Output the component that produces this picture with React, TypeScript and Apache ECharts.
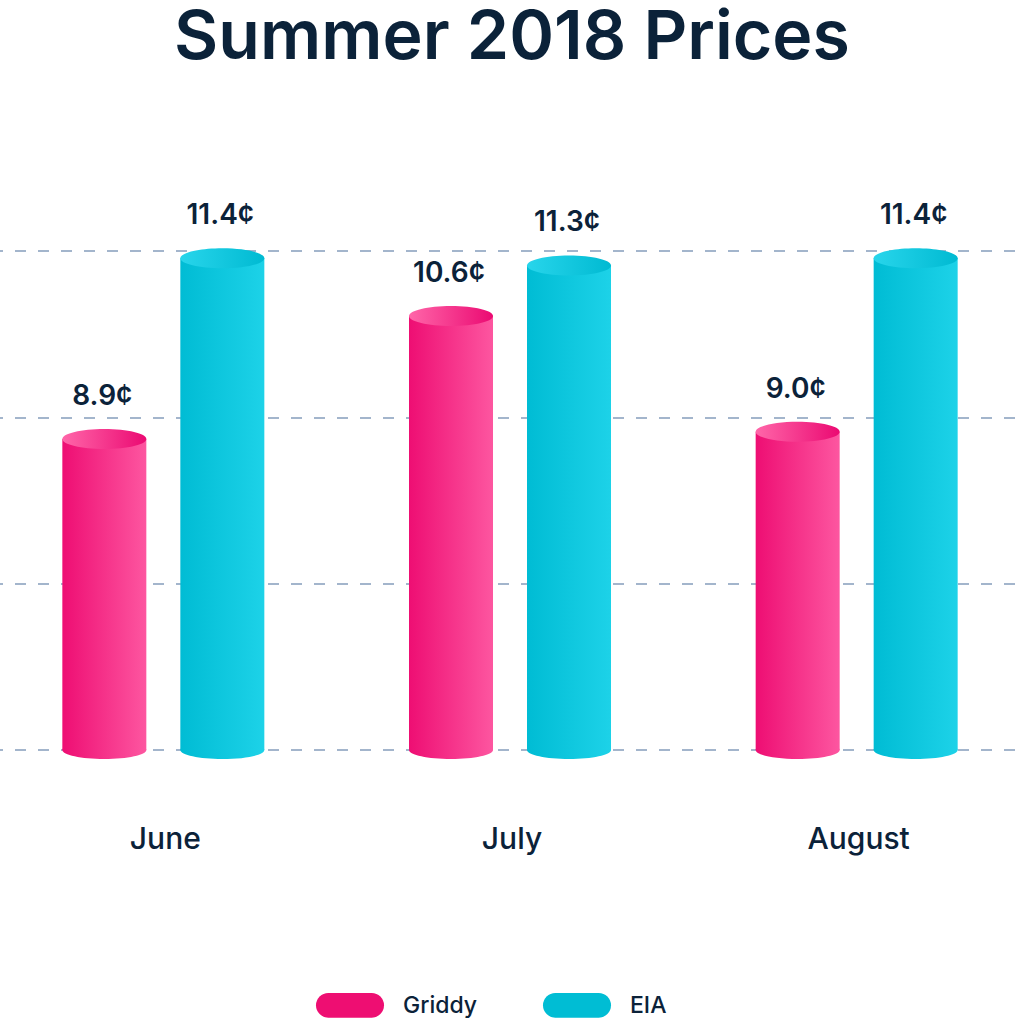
import React, { useEffect, useRef } from "react";
import * as echarts from "echarts";

const categories = ["June", "July", "August"];
const griddy = [8.9, 10.6, 9.0];
const eia = [11.4, 11.3, 11.4];
const seriesNames = ["Griddy", "EIA"];
const yMin = 4.6;
const yMax = 11.5;
const yInterval = 2.3;

const NAVY = "#0B2239";
const FONT = "Inter, 'Noto Sans', sans-serif";
const SHIFT = 8; // chart div starts 8px left of the page edge

function cylinder(
  offset: number,
  bodyColors: [string, string],
  topColors: [string, string]
) {
  return (params: any, api: any) => {
    const idx = api.value(0);
    const val = api.value(1);
    const top = api.coord([idx, val]);
    const base = api.coord([idx, yMin]);
    const cx = top[0] + offset;
    const hw = 42;
    const body = new echarts.graphic.LinearGradient(0, 0, 1, 0, [
      { offset: 0, color: bodyColors[0] },
      { offset: 1, color: bodyColors[1] },
    ]);
    const cap = new echarts.graphic.LinearGradient(0, 0, 1, 0, [
      { offset: 0, color: topColors[0] },
      { offset: 1, color: topColors[1] },
    ]);
    return {
      type: "group",
      children: [
        {
          type: "rect",
          shape: { x: cx - hw, y: top[1], width: hw * 2, height: base[1] - top[1] },
          style: { fill: body },
        },
        {
          type: "ellipse",
          shape: { cx, cy: base[1], rx: hw, ry: 9 },
          style: { fill: body },
        },
        {
          type: "ellipse",
          shape: { cx, cy: top[1], rx: hw, ry: 10 },
          style: { fill: cap },
        },
        {
          type: "text",
          style: {
            x: cx - 2,
            y: top[1] - 30,
            text: val.toFixed(1) + "¢",
            fill: NAVY,
            font: `600 28px ${FONT}`,
            align: "center",
            verticalAlign: "bottom",
          },
        },
      ],
    };
  };
}

export default function App() {
  const ref = useRef<HTMLDivElement>(null);
  useEffect(() => {
    if (!ref.current) return;
    const chart = echarts.init(ref.current, undefined, { renderer: "svg" });
    const pill = "path://M12,0 L56,0 A12.5,12.5 0 0 1 56,25 L12,25 A12.5,12.5 0 0 1 12,0 Z";
    chart.setOption({
      animation: false,
      backgroundColor: "#ffffff",
      title: {
        text: "Summer 2018 Prices",
        left: "center",
        top: 0,
        padding: 0,
        textStyle: {
          fontFamily: FONT,
          fontWeight: 600,
          fontSize: 68,
          lineHeight: 68,
          color: NAVY,
        },
      },
      legend: {
        left: 316 + SHIFT,
        top: 993,
        padding: 0,
        itemWidth: 68,
        itemHeight: 25,
        itemGap: 66,
        icon: pill,
        data: seriesNames,
        textStyle: {
          fontFamily: FONT,
          fontSize: 23,
          fontWeight: 500,
          color: NAVY,
          padding: [0, 0, 0, 14],
        },
      },
      grid: { left: 0, right: 0, top: 251, bottom: 270 },
      xAxis: {
        type: "category",
        data: categories,
        axisLine: { show: false },
        axisTick: { show: false },
        axisLabel: {
          margin: 73,
          fontFamily: FONT,
          fontSize: 30,
          fontWeight: 500,
          color: NAVY,
        },
      },
      yAxis: {
        type: "value",
        min: yMin,
        max: yMax,
        interval: yInterval,
        axisLabel: { show: false },
        axisLine: { show: false },
        axisTick: { show: false },
        splitLine: {
          lineStyle: { color: "#A3B5CC", width: 2, type: [11, 12] },
        },
      },
      series: [
        {
          name: seriesNames[0],
          type: "custom",
          itemStyle: { color: "#EE0E72" },
          encode: { x: 0, y: 1 },
          clip: false,
          data: griddy.map((v, i) => [i, v]),
          renderItem: cylinder(-61, ["#EE0E73", "#FD56A0"], ["#FF66A9", "#EB0A72"]),
        },
        {
          name: seriesNames[1],
          type: "custom",
          itemStyle: { color: "#00BDD4" },
          encode: { x: 0, y: 1 },
          clip: false,
          data: eia.map((v, i) => [i, v]),
          renderItem: cylinder(57, ["#00BCD4", "#1DD2E8"], ["#28D5EB", "#00BAD2"]),
        },
      ],
    });
    return () => chart.dispose();
  }, []);
  return (
    <div
      ref={ref}
      style={{ position: "absolute", left: -SHIFT, top: 0, width: 1024 + 2 * SHIFT, height: 1020 }}
    />
  );
}
